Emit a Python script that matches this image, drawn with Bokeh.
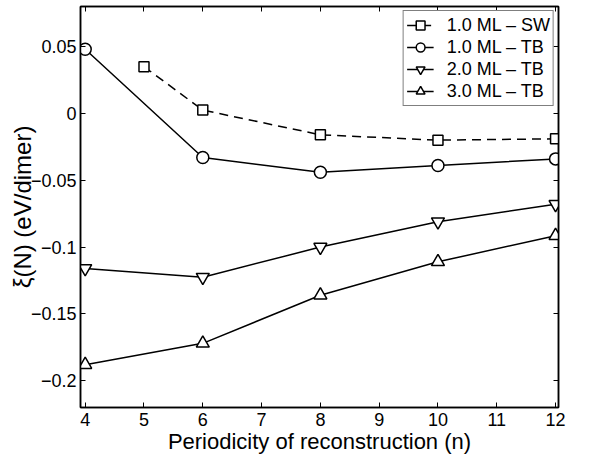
from bokeh.plotting import figure
from bokeh.models import LinearAxis, FixedTicker, CustomJSTickFormatter, Range1d, Legend, LegendItem
from bokeh.embed import file_html
from bokeh.resources import INLINE

# data
n_sw = [5, 6, 8, 10, 12]
sw_1ml = [0.035, 0.0025, -0.016, -0.020, -0.019]
n_tb = [4, 6, 8, 10, 12]
tb_1ml = [0.048, -0.033, -0.044, -0.039, -0.034]
tb_2ml = [-0.116, -0.1225, -0.100, -0.081, -0.068]
tb_3ml = [-0.188, -0.172, -0.136, -0.111, -0.0915]
x_ticks = [4, 5, 6, 7, 8, 9, 10, 11, 12]
y_ticks = [-0.2, -0.15, -0.1, -0.05, 0, 0.05]
labels = ["1.0 ML \u2013 SW", "1.0 ML \u2013 TB", "2.0 ML \u2013 TB", "3.0 ML \u2013 TB"]

FONT = "Liberation Sans"

p = figure(width=594, height=464, output_backend="svg", toolbar_location=None,
           x_range=Range1d(3.92, 12.05), y_range=Range1d(-0.22, 0.08),
           min_border_left=80, min_border_right=36, min_border_top=6, min_border_bottom=57,
           x_axis_label="Periodicity of reconstruction (n)",
           y_axis_label="\u03be(N) (eV/dimer)")
p.grid.visible = False
p.outline_line_color = "black"
p.outline_line_width = 1.5
p.background_fill_color = "white"
p.border_fill_color = "white"

fmt = CustomJSTickFormatter(code="""
if (Math.abs(tick) < 1e-9) return "0";
var s = String(parseFloat(tick.toFixed(3)));
return s.replace("-", "\u2212");
""")

def style_axis(ax):
    ax.axis_line_width = 1.5
    ax.axis_line_color = "black"
    ax.major_tick_in = 5
    ax.major_tick_out = 0
    ax.minor_tick_line_color = None
    ax.major_tick_line_width = 1
    ax.major_label_text_font = FONT
    ax.major_label_text_font_size = "18px"
    ax.major_label_text_color = "black"
    ax.axis_label_text_font = FONT
    ax.axis_label_text_font_size = "22px"
    ax.axis_label_text_font_style = "normal"
    ax.axis_label_text_color = "black"

p.xaxis.ticker = FixedTicker(ticks=x_ticks)
p.yaxis.ticker = FixedTicker(ticks=y_ticks)
p.yaxis.formatter = fmt
style_axis(p.xaxis[0])
style_axis(p.yaxis[0])
p.yaxis.axis_label_text_font_size = "24px"
p.xaxis.major_label_standoff = 5
p.xaxis.axis_label_standoff = 0
p.yaxis.major_label_standoff = 4
p.yaxis.axis_label_standoff = -8

# top and right axes: ticks only (drawn as unlabeled minor ticks)
def tick_only_axis(ticks):
    ax = LinearAxis(ticker=FixedTicker(ticks=[], minor_ticks=ticks))
    ax.axis_line_width = 1.5
    ax.axis_line_color = "black"
    ax.major_tick_line_color = None
    ax.minor_tick_in = 5
    ax.minor_tick_out = 0
    ax.minor_tick_line_color = "black"
    ax.minor_tick_line_width = 1
    return ax

p.add_layout(tick_only_axis(x_ticks), "above")
p.add_layout(tick_only_axis(y_ticks), "right")

lw = 1.5
items = []
l0 = p.line(n_sw, sw_1ml, line_color="black", line_width=lw, line_dash="9 6")
s0 = p.scatter(n_sw, sw_1ml, marker="square", size=10, fill_color="white", line_color="black", line_width=lw)
items.append(LegendItem(label=labels[0], renderers=[l0, s0]))
l1 = p.line(n_tb, tb_1ml, line_color="black", line_width=lw)
s1 = p.scatter(n_tb, tb_1ml, marker="circle", size=12, fill_color="white", line_color="black", line_width=lw)
items.append(LegendItem(label=labels[1], renderers=[l1, s1]))
l2 = p.line(n_tb, tb_2ml, line_color="black", line_width=lw)
s2 = p.scatter(n_tb, tb_2ml, marker="inverted_triangle", size=13, fill_color="white", line_color="black", line_width=lw)
items.append(LegendItem(label=labels[2], renderers=[l2, s2]))
l3 = p.line(n_tb, tb_3ml, line_color="black", line_width=lw)
s3 = p.scatter(n_tb, tb_3ml, marker="triangle", size=13, fill_color="white", line_color="black", line_width=lw)
items.append(LegendItem(label=labels[3], renderers=[l3, s3]))

legend = Legend(items=items, location="top_right")
legend.margin = 4
legend.padding = 3
legend.spacing = 0
legend.label_height = 22
legend.glyph_height = 22
legend.glyph_width = 27
legend.label_standoff = 13
legend.label_text_font = FONT
legend.label_text_font_size = "18px"
legend.label_text_color = "black"
legend.border_line_color = "black"
legend.border_line_width = 1
legend.background_fill_alpha = 1
p.add_layout(legend)

open("out.html", "w").write(file_html(p, INLINE))
